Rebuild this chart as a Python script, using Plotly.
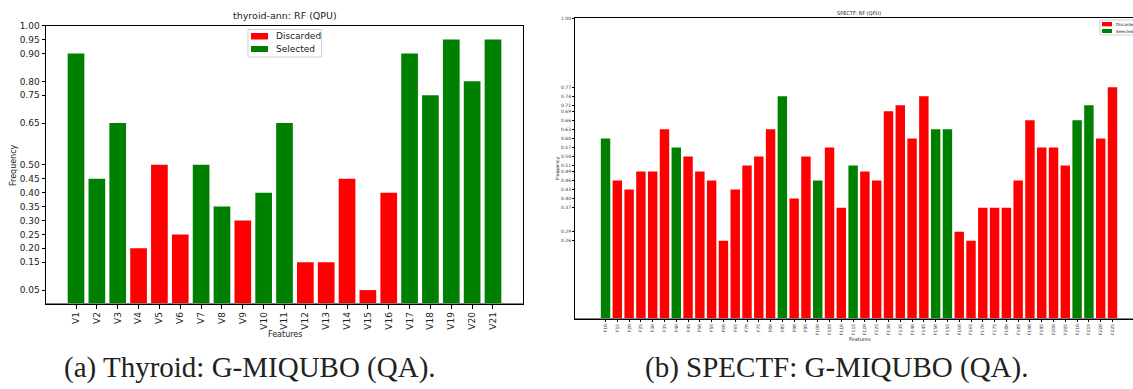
import plotly.graph_objects as go

W, H = 1133, 389

# ---------------- Data ----------------
thyroid_features = ["V1", "V2", "V3", "V4", "V5", "V6", "V7", "V8", "V9", "V10", "V11",
                    "V12", "V13", "V14", "V15", "V16", "V17", "V18", "V19", "V20", "V21"]
thyroid_freq = [0.90, 0.45, 0.65, 0.20, 0.50, 0.25, 0.50, 0.35, 0.30, 0.40, 0.65,
                0.15, 0.15, 0.45, 0.05, 0.40, 0.90, 0.75, 0.95, 0.80, 0.95]
thyroid_status = ["S", "S", "S", "D", "D", "D", "S", "S", "D", "S", "S",
                  "D", "D", "D", "D", "D", "S", "S", "S", "S", "S"]
thyroid_ticks = [0.05, 0.15, 0.20, 0.25, 0.30, 0.35, 0.40, 0.45, 0.50, 0.65,
                 0.75, 0.80, 0.90, 0.95, 1.00]

spectf_features = ["F1R", "F1S", "F2R", "F2S", "F3R", "F3S", "F4R", "F4S", "F5R", "F5S",
                   "F6R", "F6S", "F7R", "F7S", "F8R", "F8S", "F9R", "F9S", "F10R", "F10S",
                   "F11R", "F11S", "F12R", "F12S", "F13R", "F13S", "F14R", "F14S", "F15R", "F15S",
                   "F16R", "F16S", "F17R", "F17S", "F18R", "F18S", "F19R", "F19S", "F20R", "F20S",
                   "F21R", "F21S", "F22R", "F22S"]
spectf_freq = [0.60, 0.46, 0.43, 0.49, 0.49, 0.63, 0.57, 0.54, 0.49, 0.46,
               0.26, 0.43, 0.51, 0.54, 0.63, 0.74, 0.40, 0.54, 0.46, 0.57,
               0.37, 0.51, 0.49, 0.46, 0.69, 0.71, 0.60, 0.74, 0.63, 0.63,
               0.29, 0.26, 0.37, 0.37, 0.37, 0.46, 0.66, 0.57, 0.57, 0.51,
               0.66, 0.71, 0.60, 0.77]
spectf_status = ["S", "D", "D", "D", "D", "D", "S", "D", "D", "D",
                 "D", "D", "D", "D", "D", "S", "D", "D", "S", "D",
                 "D", "S", "D", "D", "D", "D", "D", "D", "S", "S",
                 "D", "D", "D", "D", "D", "D", "D", "D", "D", "D",
                 "S", "S", "D", "D"]
spectf_ticks = [0.26, 0.29, 0.37, 0.40, 0.43, 0.46, 0.49, 0.51, 0.54, 0.57, 0.60,
                0.63, 0.66, 0.69, 0.71, 0.74, 0.77, 1.00]

legend_names = ["Discarded", "Selected"]
RED, GREEN = "#ff0000", "#008000"


def px_x(p):
    return p / W


def px_y(p):
    return 1 - p / H


fig = go.Figure()


def add_bars(features, freq, status, xa, ya):
    for code, name, color in (("D", legend_names[0], RED), ("S", legend_names[1], GREEN)):
        xs = [f for f, s in zip(features, status) if s == code]
        ys = [v for v, s in zip(freq, status) if s == code]
        fig.add_trace(go.Bar(x=xs, y=ys, name=name, marker=dict(color=color, line=dict(width=0)),
                             width=0.8, xaxis=xa, yaxis=ya, showlegend=False))


add_bars(thyroid_features, thyroid_freq, thyroid_status, "x", "y")
add_bars(spectf_features, spectf_freq, spectf_status, "x2", "y2")

common_axis = dict(showgrid=False, zeroline=False, ticks="outside", showline=True,
                   linecolor="black", linewidth=1, mirror=True, tickcolor="black",
                   automargin=False)

fig.update_layout(
    width=W, height=H, margin=dict(l=0, r=0, t=0, b=0, autoexpand=False),
    paper_bgcolor="white", plot_bgcolor="white",
    barmode="overlay", showlegend=False,
    font=dict(family="DejaVu Sans", color="#222"),
    xaxis=dict(domain=[px_x(46), px_x(523)], anchor="y", type="category",
               categoryorder="array", categoryarray=thyroid_features,
               range=[-1.44, 21.44], tickangle=-90, ticklen=3.5,
               tickfont=dict(size=9, color="#222"), **common_axis),
    yaxis=dict(domain=[px_y(304), px_y(25.7)], anchor="x", range=[0, 1],
               tickvals=thyroid_ticks, ticktext=[f"{v:.2f}" for v in thyroid_ticks],
               ticklen=3.5, tickfont=dict(size=9, color="#222"), **common_axis),
    xaxis2=dict(domain=[px_x(575), 1.0], anchor="y2", type="category",
                categoryorder="array", categoryarray=spectf_features,
                range=[-2.59, 44.74], tickangle=-90, ticklen=2,
                tickfont=dict(size=4.5, color="#444"), **common_axis),
    yaxis2=dict(domain=[px_y(319), px_y(18)], anchor="x2", range=[0, 1],
                tickvals=spectf_ticks, ticktext=[f"{v:.2f}" for v in spectf_ticks],
                ticklen=2, tickfont=dict(size=4.5, color="#333"), **common_axis),
)

# thicker gray bottom lines
for xr, yr in (("x domain", "y"), ("x2 domain", "y2")):
    fig.add_shape(type="line", xref=xr, yref=yr, x0=0, x1=1, y0=0, y1=0,
                  line=dict(color="#808080", width=2))


# ---- legends drawn as boxes with patches and labels ----
def legend_box(x0, y0, x1, y1, patch_x0, patch_x1, patches_y, text_x, text_size):
    fig.add_shape(type="rect", xref="paper", yref="paper",
                  x0=px_x(x0), x1=px_x(x1), y0=px_y(y1), y1=px_y(y0),
                  line=dict(color="#d0d0d0", width=1), fillcolor="white", layer="above")
    for (py0, py1), name, color in zip(patches_y, legend_names, (RED, GREEN)):
        fig.add_shape(type="rect", xref="paper", yref="paper",
                      x0=px_x(patch_x0), x1=px_x(patch_x1), y0=px_y(py1), y1=px_y(py0),
                      line=dict(width=0), fillcolor=color, layer="above")
        fig.add_annotation(text=name, x=px_x(text_x), y=px_y((py0 + py1) / 2),
                           xref="paper", yref="paper", showarrow=False,
                           xanchor="left", yanchor="middle",
                           font=dict(size=text_size, color="#222", family="DejaVu Sans"))


legend_box(248, 29.5, 321.5, 57, 251, 268, [(33, 39.5), (46, 52)], 274, 9)
legend_box(1100, 20, 1140, 35, 1102, 1112, [(22, 26.3), (29, 33)], 1113.5, 4.0)

annots = [
    dict(text="thyroid-ann: RF (QPU)", x=px_x(284.5), y=px_y(16), size=9.5, angle=0, family="DejaVu Sans"),
    dict(text="Features", x=px_x(284.5), y=px_y(334), size=8, angle=0, family="DejaVu Sans"),
    dict(text="Frequency", x=px_x(13), y=px_y(165), size=8, angle=-90, family="DejaVu Sans"),
    dict(text="SPECTF: RF (QPU)", x=px_x(859), y=px_y(13), size=5, angle=0, family="DejaVu Sans"),
    dict(text="Features", x=px_x(860), y=px_y(339), size=5, angle=0, family="DejaVu Sans"),
    dict(text="Frequency", x=px_x(557), y=px_y(168), size=4.5, angle=-90, family="DejaVu Sans"),
    dict(text="(a) Thyroid: G-MIQUBO (QA).", x=px_x(250), y=px_y(367), size=29, angle=0, family="Liberation Serif"),
    dict(text="(b) SPECTF: G-MIQUBO (QA).", x=px_x(836), y=px_y(367), size=29, angle=0, family="Liberation Serif"),
]
for a in annots:
    fig.add_annotation(text=a["text"], x=a["x"], y=a["y"], xref="paper", yref="paper",
                       showarrow=False, textangle=a["angle"], xanchor="center", yanchor="middle",
                       font=dict(size=a["size"], family=a["family"], color="#222"))

fig.write_html("out.html", config={"displayModeBar": False},
               post_script="document.body.style.margin='0';document.body.style.overflow='hidden';")
